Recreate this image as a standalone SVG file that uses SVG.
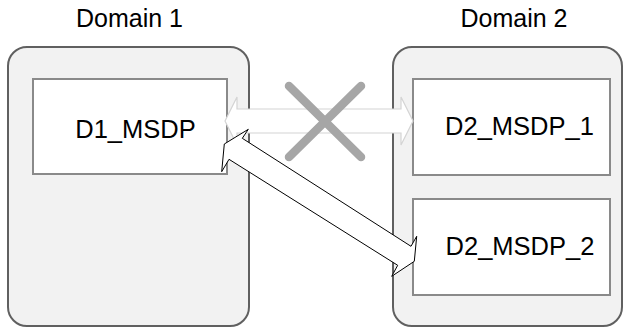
<svg xmlns="http://www.w3.org/2000/svg" width="625" height="327" viewBox="0 0 625 327">
<style>
.domain{fill:#f2f2f2;stroke:#606060;stroke-width:2}
.box{fill:#ffffff;stroke:#8a8a8a;stroke-width:2}
.lbl{font-family:"Liberation Sans",Arial,sans-serif;font-size:25px;fill:#000;text-anchor:middle}
.blbl{font-family:"Liberation Sans",Arial,sans-serif;font-size:25.5px;fill:#000;text-anchor:middle}
</style>
<rect width="625" height="327" fill="#ffffff"/>
<g id="domain1">
<rect class="domain" x="8" y="47" width="241" height="279" rx="19" ry="19"/>
<text class="lbl" x="129.5" y="27">Domain 1</text>
</g>
<g id="domain2">
<rect class="domain" x="393" y="47" width="229" height="279" rx="19" ry="19"/>
<text class="lbl" x="514" y="27">Domain 2</text>
</g>
<g id="d1_msdp">
<rect class="box" x="33" y="79" width="194" height="95"/>
<text class="blbl" x="135.5" y="138">D1_MSDP</text>
</g>
<g id="d2_msdp_1">
<rect class="box" x="413" y="79" width="197" height="96"/>
<text class="blbl" x="519.5" y="135">D2_MSDP_1</text>
</g>
<g id="d2_msdp_2">
<rect class="box" x="413" y="199" width="197" height="96"/>
<text class="blbl" x="520" y="255">D2_MSDP_2</text>
</g>
<g id="connectors">
<polygon points="225,121 237,97 237,109 401,109 401,97 413,121 401,145 401,133 237,133 237,145" fill="#ffffff" stroke="#d4d4d4" stroke-width="1.2" stroke-linejoin="miter"/>
<g stroke="#a6a6a6" stroke-width="8.5" stroke-linecap="round">
<line x1="289" y1="86" x2="361" y2="157"/>
<line x1="361" y1="86" x2="289" y2="157"/>
</g>
<polygon points="224.3,144 248.3,129.3 242.3,138.3 411,246.3 416.7,236.3 414.3,261.3 391.7,276.3 397.7,265.3 229,159.3 221.7,171.7" fill="#ffffff" stroke="#000000" stroke-width="1" stroke-linejoin="miter"/>
</g>
</svg>
